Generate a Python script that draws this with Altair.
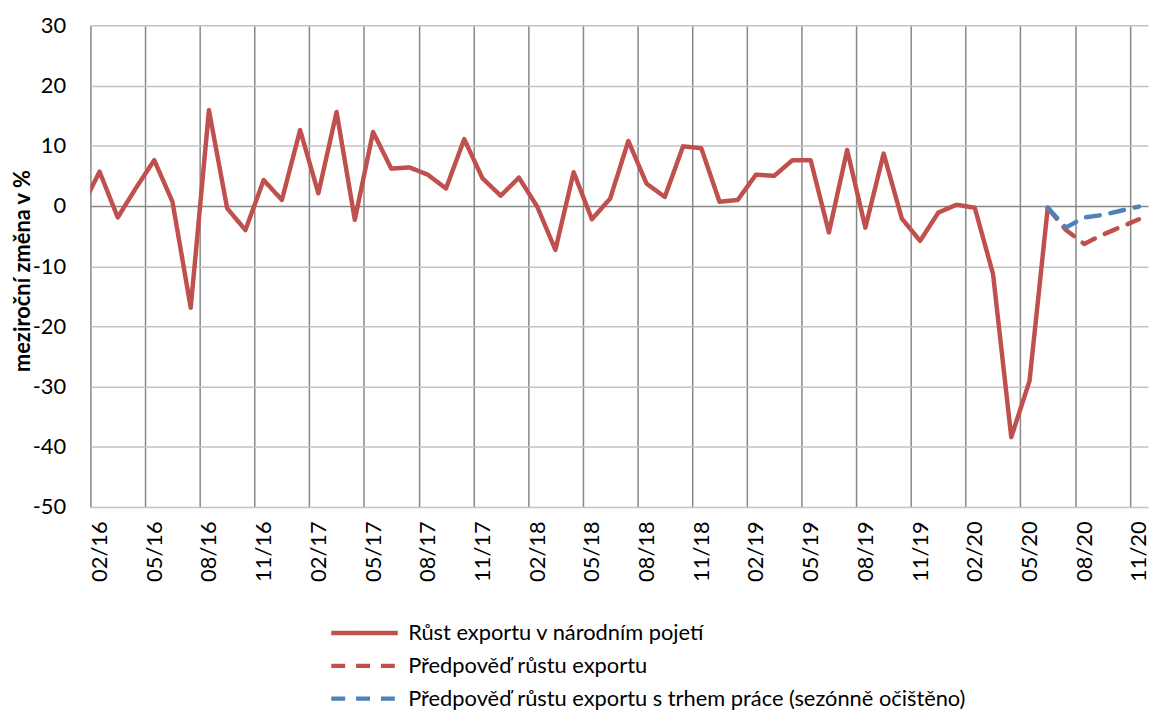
import json
import altair as alt
import pandas as pd

# ---- data ----
tick_labels = ["02/16", "05/16", "08/16", "11/16",
               "02/17", "05/17", "08/17", "11/17",
               "02/18", "05/18", "08/18", "11/18",
               "02/19", "05/19", "08/19", "11/19",
               "02/20", "05/20", "08/20", "11/20"]

series_names = ["Růst exportu v národním pojetí",
                "Předpověď růstu exportu",
                "Předpověď růstu exportu s trhem práce (sezónně očištěno)"]

actual_months = [str(p) for p in pd.period_range("2016-01", "2020-06", freq="M")]
actual_values = [-0.4, 5.7, -1.9, 3.0, 7.6, 0.7, -16.9, 15.9, -0.4, -4.0,
                 4.3, 1.0, 12.6, 2.1, 15.6, -2.3, 12.3, 6.2, 6.4, 5.2,
                 2.9, 11.1, 4.6, 1.7, 4.7, -0.1, -7.3, 5.6, -2.2, 1.2,
                 10.8, 3.7, 1.5, 9.9, 9.6, 0.7, 1.0, 5.2, 5.0, 7.6,
                 7.6, -4.4, 9.3, -3.6, 8.7, -2.1, -5.8, -1.1, 0.2, -0.3,
                 -11.3, -38.4, -29.1, -0.3]

forecast_months = [str(p) for p in pd.period_range("2020-06", "2020-11", freq="M")]
forecast_values = [-0.3, -4.0, -6.3, -4.8, -3.5, -2.2]
forecast_labour_values = [-0.3, -3.6, -1.9, -1.5, -0.8, -0.1]

y_ticks = [-50, -40, -30, -20, -10, 0, 10, 20, 30]

# ---- table ----
rows = []
for name, months, vals in [(series_names[0], actual_months, actual_values),
                           (series_names[1], forecast_months, forecast_values),
                           (series_names[2], forecast_months, forecast_labour_values)]:
    for m, v in zip(months, vals):
        y, mo = int(m[:4]), int(m[5:7])
        rows.append({"series": name, "idx": (y - 2016) * 12 + (mo - 2), "value": v})
df = pd.DataFrame(rows)

FONT = "Lato"
RED = "#C0504D"
BLUE = "#4F81BD"

grid_vals = [-0.5 + 3 * k for k in range(len(tick_labels))]
label_expr = f"{json.dumps(tick_labels)}[round((datum.value + 0.5) / 3)]"

x_enc = alt.X("idx:Q",
              scale=alt.Scale(domain=[-0.5, 57.5], nice=False, zero=False),
              axis=alt.Axis(values=grid_vals, labelExpr=label_expr, labelAngle=270,
                            labelOffset=9.2, labelPadding=14, ticks=False, domain=False,
                            grid=True, gridColor="#878787", gridWidth=1.5,
                            labelFont=FONT, labelFontSize=22, labelColor="black",
                            title=None, labelOverlap=False))
y_enc = alt.Y("value:Q",
              scale=alt.Scale(domain=[-50, 30], nice=False),
              axis=alt.Axis(values=y_ticks, ticks=False, domain=False, grid=True,
                            gridColor={"condition": {"test": "datum.value === 0", "value": "#878787"},
                                       "value": "#C3C3C3"},
                            gridWidth=1.5, labelPadding=25,
                            labelExpr="'' + datum.value",
                            labelFont=FONT, labelFontSize=22, labelColor="black",
                            title="meziroční změna v %", titleFont=FONT, titleFontSize=22,
                            titleFontWeight="bold", titleColor="black",
                            titleX=-68, titleY=247, titleBaseline="middle",
                            titleAlign="center", titleAngle=270))

legend_kw = dict(orient="none", legendX=265, legendY=601, title=None,
                 direction="vertical")
color_enc = alt.Color("series:N",
                      scale=alt.Scale(domain=series_names, range=[RED, RED, BLUE]),
                      legend=alt.Legend(symbolType="M-4,0H4", symbolSize=280,
                                        symbolStrokeWidth=4.5, labelFont=FONT,
                                        labelFontSize=22, labelColor="black",
                                        labelOffset=33, rowPadding=11,
                                        labelLimit=1000, **legend_kw))
dash_enc = alt.StrokeDash("series:N",
                          scale=alt.Scale(domain=series_names, range=[[1, 0], [14, 11], [14, 11]]),
                          legend=alt.Legend(**legend_kw))

base = alt.Chart(df).mark_line(strokeWidth=4.5, strokeJoin="round", strokeCap="round",
                               clip=True).encode(
    x=x_enc, y=y_enc, color=color_enc, strokeDash=dash_enc,
    order=alt.Order("idx:Q"))

layers = [base.transform_filter(alt.datum.series == s) for s in series_names]

chart = alt.layer(*layers).properties(
    width=1065, height=485,
    autosize=alt.AutoSizeParams(type="none"),
    padding={"left": 83, "top": 15, "right": 3, "bottom": 206},
).configure_view(stroke=None)

chart.save("out.html", embed_options={"renderer": "svg", "actions": False})
